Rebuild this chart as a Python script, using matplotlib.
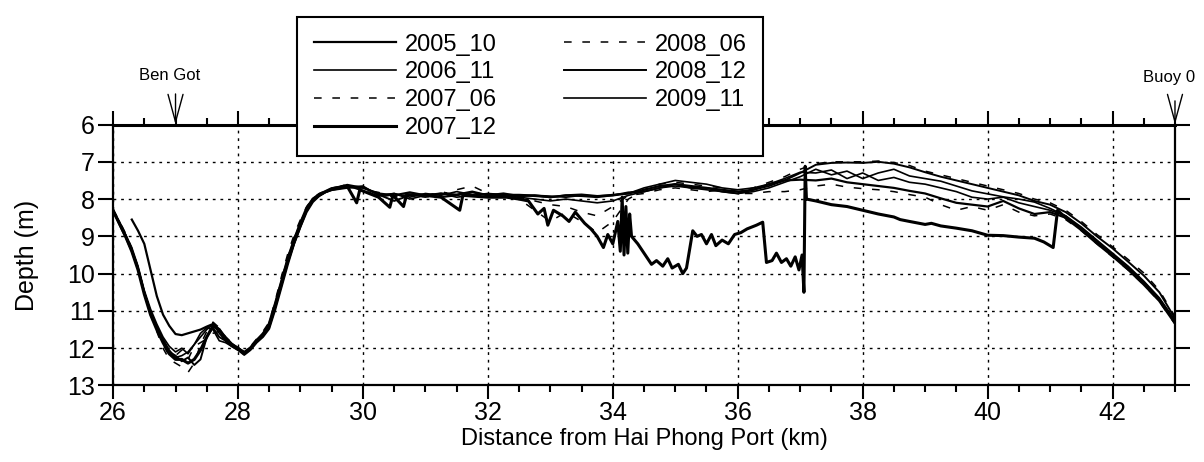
import numpy as np
import matplotlib
matplotlib.use("Agg")
import matplotlib.pyplot as plt
from matplotlib.ticker import MultipleLocator

plt.rcParams['font.family'] = ['Liberation Sans', 'DejaVu Sans']

nan = np.nan

# distance grid (km): 0.1 km in the channel bend, 0.25 km afterwards
km = [26.0, 26.1, 26.2, 26.3, 26.4, 26.5, 26.6, 26.7, 26.8, 26.9,
      27.0, 27.1, 27.2, 27.3, 27.4, 27.5, 27.6, 27.7, 27.8, 27.9,
      28.0, 28.1, 28.2, 28.3, 28.4, 28.5, 28.6, 28.7, 28.8, 28.9,
      29.0, 29.1, 29.2, 29.3, 29.4, 29.5,
      29.75, 30.0, 30.25, 30.5, 30.75, 31.0, 31.25, 31.5, 31.75, 32.0,
      32.25, 32.5, 32.75, 33.0, 33.25, 33.5, 33.75, 34.0, 34.25, 34.5,
      34.75, 35.0, 35.25, 35.5, 35.75, 36.0, 36.25, 36.5, 36.75, 37.0,
      37.25, 37.5, 37.75, 38.0, 38.25, 38.5, 38.75, 39.0, 39.25, 39.5,
      39.75, 40.0, 40.25, 40.5, 40.75, 41.0, 41.25, 41.5, 41.75, 42.0,
      42.25, 42.5, 42.75, 43.0]

depth_2005_10 = [nan, nan, nan, 8.55, 8.85, 9.2, 9.9, 10.6, 11.1, 11.4,
                 11.62, 11.65, 11.6, 11.55, 11.5, 11.42, 11.35, 11.5, 11.7, 11.88,
                 12.0, 12.1, 11.98, 11.78, 11.6, 11.35, 10.8, 10.2, 9.6, 9.1,
                 8.65, 8.28, 8.0, 7.88, 7.8, 7.72,
                 7.62, 7.7, 7.85, 7.9, 7.82, 7.9, 7.85, 7.88, 7.8, 7.9,
                 7.85, 7.92, 7.9, 7.95, 7.9, 7.88, 7.92, 7.9, 7.85, 7.75,
                 7.65, 7.6, 7.65, 7.7, 7.75, 7.8, 7.75, 7.6, 7.5, 7.48,
                 7.5, 7.45, 7.55, 7.6, 7.65, 7.7, 7.78, 7.85, 7.98, 8.1,
                 8.15, 8.2, 8.05, 8.25, 8.4, 8.35, 8.5, 8.8, 9.15, 9.5,
                 9.85, 10.25, 10.7, 11.3]

depth_2006_11 = [8.32, 8.6, 8.95, 9.3, 9.8, 10.45, 10.95, 11.35, 11.7, 11.95,
                 12.1, 12.0, 12.15, 11.9, 11.7, 11.5, 11.35, 11.6, 11.8, 11.92,
                 12.02, 12.15, 12.02, 11.82, 11.68, 11.45, 10.9, 10.3, 9.7, 9.2,
                 8.75, 8.32, 8.05, 7.92, 7.82, 7.76,
                 7.68, 7.65, 7.9, 7.85, 7.95, 7.85, 7.9, 7.8, 7.88, 7.95,
                 7.9, 7.95, 8.0, 8.05, 8.0, 8.05, 8.1, 8.05, 7.9, 7.8,
                 7.7, 7.65, 7.7, 7.75, 7.8, 7.85, 7.8, 7.7, 7.55, 7.4,
                 7.2, 7.35, 7.25, 7.45, 7.3, 7.2, 7.38, 7.45, 7.52, 7.65,
                 7.78, 7.86, 7.94, 8.0, 8.08, 8.25, 8.45, 8.75, 9.1, 9.45,
                 9.8, 10.2, 10.65, 11.25]

depth_2007_06 = [8.28, 8.58, 8.92, 9.32, 9.82, 10.5, 11.0, 11.5, 11.9, 12.2,
                 12.2, 12.05, 12.3, 11.95, 11.85, 11.75, 11.6, 11.55, 11.72, 11.88,
                 12.0, 12.12, 11.98, 11.78, 11.62, 11.38, 10.8, 10.15, 9.55, 9.05,
                 8.62, 8.25, 8.02, 7.88, 7.8, 7.74,
                 7.6, 7.75, 7.82, 7.95, 7.88, 7.92, 7.8, 7.9, 7.85, 7.88,
                 7.95, 7.95, 8.05, 8.15, 8.2, 8.35, 8.45, 8.2, 7.9, 7.85,
                 7.75, 7.7, 7.75, 7.8, 7.75, 7.85, 7.85, 7.8, 7.8, 7.75,
                 7.65, 7.6, 7.68, 7.72, 7.75, 7.8, 7.88, 7.95, 8.15, 8.3,
                 8.2, 8.3, 8.15, 8.35, 8.45, 8.4, 8.55, 8.85, 9.2, 9.55,
                 9.9, 10.3, 10.75, 11.35]

depth_2008_06 = [8.3, 8.62, 8.98, 9.38, 9.9, 10.55, 11.1, 11.55, 12.0, 12.3,
                 12.4, 12.5, 12.65, 12.4, 11.9, 11.55, 11.3, 11.45, 11.7, 11.85,
                 11.98, 12.1, 11.95, 11.75, 11.55, 11.3, 10.7, 10.05, 9.45, 8.95,
                 8.55, 8.2, 7.98, 7.85, 7.78, 7.7,
                 7.65, 7.72, 7.95, 7.88, 7.9, 7.95, 7.88, 7.75, 7.65, 7.85,
                 7.9, 8.0, 8.3, 8.6, 8.35, 8.6, 8.9, 8.6, 8.0, 7.75,
                 7.6, 7.55, 7.6, 7.65, 7.7, 7.8, 7.7, 7.55, 7.4, 7.2,
                 7.05, 7.0, 7.0, 7.0, 6.98, 7.02, 7.1, 7.25, 7.35, 7.45,
                 7.55, 7.65, 7.75, 7.85, 8.0, 8.1, 8.3, 8.6, 8.95, 9.28,
                 9.62, 9.98, 10.45, 11.15]

depth_2008_12 = [8.33, 8.68, 9.02, 9.4, 9.88, 10.5, 11.05, 11.45, 11.8, 12.1,
                 12.2, 12.35, 12.25, 12.45, 12.3, 11.7, 11.45, 11.7, 11.8, 11.95,
                 12.05, 12.18, 12.05, 11.85, 11.7, 11.48, 10.95, 10.35, 9.75, 9.2,
                 8.75, 8.35, 8.08, 7.92, 7.82, 7.76,
                 7.7, 7.68, 7.88, 8.05, 7.9, 7.88, 7.95, 7.9, 7.82, 7.9,
                 7.92, 7.9, 7.92, 7.95, 7.9, 7.92, 7.95, 7.9, 7.82, 7.8,
                 7.7, 7.6, 7.7, 7.7, 7.8, 7.85, 7.75, 7.65, 7.5, 7.3,
                 7.08, 7.03, 7.02, 7.03, 7.0, 7.05, 7.15, 7.28, 7.4, 7.5,
                 7.6, 7.7, 7.8, 7.9, 8.05, 8.15, 8.35, 8.65, 9.0, 9.32,
                 9.68, 10.05, 10.5, 11.2]

depth_2009_11 = [8.3, 8.62, 8.95, 9.35, 9.85, 10.5, 11.02, 11.42, 11.75, 12.05,
                 12.25, 12.2, 12.1, 11.9, 11.6, 11.45, 11.5, 11.8, 11.85, 11.95,
                 12.05, 12.12, 12.0, 11.8, 11.62, 11.42, 10.88, 10.28, 9.68, 9.18,
                 8.72, 8.3, 8.04, 7.9, 7.8, 7.74,
                 7.64, 7.78, 7.92, 7.85, 8.0, 7.9, 7.85, 7.95, 7.9, 7.85,
                 7.88, 7.88, 7.9, 7.92, 7.95, 7.9, 7.92, 7.88, 7.85, 7.7,
                 7.6, 7.5, 7.55, 7.6, 7.7, 7.75, 7.7, 7.6, 7.45, 7.28,
                 7.3, 7.22, 7.45, 7.3, 7.5, 7.42, 7.55, 7.6, 7.7, 7.8,
                 7.95, 8.0, 7.95, 8.1, 8.2, 8.3, 8.45, 8.78, 9.12, 9.48,
                 9.82, 10.22, 10.68, 11.28]

# 2007_12 survey has its own, denser sampling (spikes near 34 km and 37 km)
km_2007_12 = [26.0, 26.1, 26.2, 26.3, 26.4, 26.5, 26.6, 26.7, 26.8, 26.9,
              27.0, 27.1, 27.2, 27.3, 27.4, 27.5, 27.6, 27.7, 27.8, 27.9,
              28.0, 28.1, 28.2, 28.3, 28.4, 28.5, 28.6, 28.7, 28.8, 28.9,
              29.0, 29.1, 29.2, 29.3, 29.4, 29.5,
              29.75, 29.9, 29.95, 30.25, 30.43, 30.48, 30.65, 30.7, 31.0, 31.25,
              31.55, 31.6, 32.0, 32.3, 32.5, 32.65, 32.8, 32.9, 32.96, 33.05,
              33.2, 33.3, 33.4, 33.55, 33.65, 33.75, 33.85, 33.92, 34.0, 34.08,
              34.12, 34.15, 34.18, 34.21, 34.24, 34.27, 34.3, 34.4, 34.5, 34.62,
              34.7, 34.8, 34.88, 34.95, 35.05, 35.12, 35.18, 35.28, 35.35, 35.42,
              35.5, 35.58, 35.65, 35.75, 35.85, 35.95, 36.05, 36.15, 36.3, 36.4,
              36.46, 36.55, 36.62, 36.7, 36.78, 36.85, 36.92, 36.98, 37.03, 37.06,
              37.08, 37.1, 37.25, 37.5, 37.75, 38.0, 38.25, 38.5, 38.6, 38.75,
              39.0, 39.1, 39.25, 39.5, 39.75, 40.0, 40.25, 40.5, 40.75, 40.9,
              41.05, 41.12, 41.25, 41.5, 41.75, 42.0, 42.25, 42.5, 42.75, 43.0]
depth_2007_12 = [8.3, 8.65, 9.0, 9.4, 9.9, 10.55, 11.1, 11.5, 11.85, 12.15,
                 12.3, 12.3, 12.4, 12.3, 12.05, 11.7, 11.4, 11.5, 11.75, 11.9,
                 12.0, 12.15, 12.0, 11.8, 11.65, 11.35, 10.8, 10.2, 9.6, 9.1,
                 8.65, 8.25, 8.0, 7.88, 7.8, 7.72,
                 7.66, 8.1, 7.75, 7.95, 8.22, 7.9, 8.2, 7.88, 7.9, 7.95,
                 8.3, 7.9, 7.95, 7.95, 8.0, 8.05, 8.4, 8.25, 8.7, 8.3,
                 8.45, 8.6, 8.35, 8.65, 8.8, 9.0, 9.3, 8.95, 9.2, 8.6,
                 9.4, 7.95, 9.5, 8.2, 9.45, 8.4, 9.0, 9.2, 9.45, 9.75,
                 9.65, 9.8, 9.6, 9.85, 9.75, 10.0, 9.85, 8.85, 9.0, 8.95,
                 9.2, 8.95, 9.25, 9.1, 9.2, 8.95, 8.9, 8.8, 8.7, 8.62,
                 9.7, 9.65, 9.45, 9.7, 9.6, 9.8, 9.55, 9.9, 9.5, 10.5,
                 7.12, 8.0, 8.05, 8.15, 8.2, 8.3, 8.4, 8.48, 8.55, 8.6,
                 8.68, 8.65, 8.72, 8.78, 8.85, 8.97, 8.98, 9.02, 9.05, 9.15,
                 9.3, 8.3, 8.5, 8.82, 9.18, 9.52, 9.88, 10.28, 10.72, 11.32]

surveys = [
    ('2005_10', km, depth_2005_10, '-', 1.6),
    ('2006_11', km, depth_2006_11, '-', 1.2),
    ('2007_06', km, depth_2007_06, (0, (5, 7)), 1.1),
    ('2007_12', km_2007_12, depth_2007_12, '-', 2.2),
    ('2008_06', km, depth_2008_06, (0, (5, 7)), 1.1),
    ('2008_12', km, depth_2008_12, '-', 1.4),
    ('2009_11', km, depth_2009_11, '-', 1.2),
]

fig = plt.figure(figsize=(12.04, 4.62), dpi=100)
ax = fig.add_axes([0.0939, 0.1656, 0.882, 0.5649])

for name, x, y, ls, lw in surveys:
    ax.plot(x, y, color='black', linestyle=ls, linewidth=lw, label=name)

ax.set_xlim(26, 43)
ax.set_ylim(13, 6)
ax.set_xticks(np.arange(26, 43, 2))
ax.xaxis.set_minor_locator(MultipleLocator(0.5))
ax.set_yticks(np.arange(6, 14, 1))

ax.tick_params(axis='x', which='major', direction='out', top=True, bottom=True,
               length=10, width=1.5, labelsize=18, pad=1)
ax.tick_params(axis='x', which='minor', direction='out', top=True, bottom=True,
               length=5, width=1.5)
ax.tick_params(axis='y', which='major', direction='out', left=True, right=True,
               length=11, width=1.5, labelsize=18, pad=2)

ax.grid(True, which='major', color='black', linestyle=(0, (2, 3.5)), linewidth=1.0)
for side in ['left', 'right', 'bottom']:
    ax.spines[side].set_linewidth(1.6)
ax.spines['top'].set_linewidth(2.2)

ax.set_xlabel('Distance from Hai Phong Port (km)', fontsize=17, labelpad=2)
ax.set_ylabel('Depth (m)', fontsize=18, labelpad=20)

# location markers above the top axis
arrow = dict(arrowstyle='->,head_length=1.1,head_width=0.3', mutation_scale=18,
             lw=1, color='black', shrinkA=0, shrinkB=0)
ax.annotate('', xy=(27, 6), xytext=(0, 22), textcoords='offset points',
            arrowprops=arrow, annotation_clip=False)
ax.annotate('Ben Got', xy=(27, 6), xytext=(-4, 35), textcoords='offset points',
            ha='center', va='center', fontsize=12, annotation_clip=False)
ax.annotate('', xy=(43, 6), xytext=(0, 17), textcoords='offset points',
            arrowprops=arrow, annotation_clip=False)
ax.annotate('Buoy 0', xy=(43, 6), xytext=(-4, 34), textcoords='offset points',
            ha='center', va='center', fontsize=12, annotation_clip=False)

leg = fig.legend(loc='upper left', bbox_to_anchor=(297 / 1204, 1 - 17 / 462),
                 ncol=2, fontsize=17, frameon=True, fancybox=False,
                 edgecolor='black', framealpha=1, borderpad=0.7,
                 labelspacing=0.25, handlelength=3.5, handletextpad=0.35,
                 columnspacing=2.85, borderaxespad=0)
leg.get_frame().set_linewidth(1.5)

fig.savefig('out.png', dpi=100)
